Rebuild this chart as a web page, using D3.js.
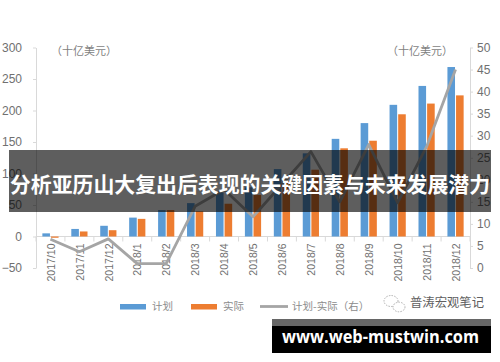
<!DOCTYPE html>
<html>
<head>
<meta charset="utf-8">
<script src="https://cdn.jsdelivr.net/npm/d3@7"></script>
<style>
  body { margin: 0; background: #fff; }
  svg { display: block; }
</style>
</head>
<body>
<svg id="chart"></svg>
<script>
const width = 500;
const height = 362;

// data
const months = ["2017/10", "2017/11", "2017/12", "2018/1", "2018/2", "2018/3", "2018/4", "2018/5",
                "2018/6", "2018/7", "2018/8", "2018/9", "2018/10", "2018/11", "2018/12"];
const plan   = [5, 12, 17, 30, 42, 53, 70, 78, 107, 132, 155, 180, 209, 239, 269];
const actual = [-2, 8, 10, 28, 42, 40, 52, 66, 88, 106, 140, 152, 194, 211, 224];
const gap    = [6.5, 3.7, 6.6, 1, 1, 14, 17.8, 11.6, 19, 26.4, 15, 28, 14.8, 27.5, 45];

const leftTicks  = [-50, 0, 50, 100, 150, 200, 250, 300];
const rightTicks = [0, 5, 10, 15, 20, 25, 30, 35, 40, 45, 50];

const seriesNames = ["计划", "实际", "计划-实际（右）"];
const unitLabel = "（十亿美元）";
const bannerTitle = "分析亚历山大复出后表现的关键因素与未来发展潜力";
const siteText = "www.web-mustwin.com";
const markText = "普涛宏观笔记";

const blue = "#5b9bd5", orange = "#ed7d31", grey = "#a5a5a5";
const axisColor = "#d9d9d9", labelColor = "#707070";
const numFont = "'Liberation Sans', Arial, sans-serif";
const cjkFont = "'Noto Sans CJK SC', sans-serif";

const svg = d3.select("#chart").attr("width", width).attr("height", height);

svg.append("rect").attr("width", width).attr("height", height).attr("fill", "#fff");

const plotTop = 47.5, plotBottom = 268;

const x = d3.scaleBand().domain(months).range([36, 470]).padding(0);
const bw = x.bandwidth();
const xSub = d3.scaleBand().domain(["plan", "actual"])
  .range([bw * 0.22, bw * 0.78]).paddingInner(0.12);

const yL = d3.scaleLinear().domain([-50, 300]).range([plotBottom, plotTop]);
const yR = d3.scaleLinear().domain([0, 50]).range([plotBottom, plotTop]);

// left axis
const gL = svg.append("g")
  .attr("transform", "translate(36,0)")
  .call(d3.axisLeft(yL).tickValues(leftTicks).tickSize(3).tickSizeOuter(0).tickPadding(11));
gL.select(".domain").attr("stroke", axisColor);
gL.selectAll(".tick line").attr("stroke", axisColor);
gL.selectAll("text")
  .style("fill", labelColor).style("font-size", "12px").style("font-family", numFont);

// right axis
const gR = svg.append("g")
  .attr("transform", "translate(470,0)")
  .call(d3.axisRight(yR).tickValues(rightTicks).tickSize(3).tickSizeOuter(0).tickPadding(4));
gR.select(".domain").attr("stroke", axisColor);
gR.selectAll(".tick line").attr("stroke", axisColor);
gR.selectAll("text")
  .style("fill", labelColor).style("font-size", "12px").style("font-family", numFont);

// category axis at zero
const y0 = yL(0);
const gX = svg.append("g").attr("transform", `translate(0,${y0})`);
gX.append("line")
  .attr("x1", x.range()[0]).attr("x2", x.range()[1])
  .attr("stroke", axisColor);
gX.selectAll("line.tick")
  .data(months.concat(["end"]))
  .join("line")
    .attr("class", "tick")
    .attr("x1", d => d === "end" ? x.range()[1] : x(d))
    .attr("x2", d => d === "end" ? x.range()[1] : x(d))
    .attr("y1", 0).attr("y2", 5)
    .attr("stroke", axisColor);
gX.selectAll("text")
  .data(months)
  .join("text")
    .attr("transform", d => `translate(${x(d) + bw / 2 + 0.5},7) rotate(-90)`)
    .attr("text-anchor", "end")
    .attr("dy", "0.35em")
    .style("fill", labelColor).style("font-size", "10.5px").style("font-family", numFont)
    .text(d => d);

// bars
const rows = months.map((m, i) => ({ m, plan: plan[i], actual: actual[i] }));
const barG = svg.append("g");
["plan", "actual"].forEach(k => {
  barG.selectAll(`rect.${k}`)
    .data(rows)
    .join("rect")
      .attr("class", k)
      .attr("x", d => x(d.m) + xSub(k))
      .attr("width", xSub.bandwidth())
      .attr("y", d => yL(Math.max(0, d[k])))
      .attr("height", d => Math.abs(yL(d[k]) - yL(0)))
      .attr("fill", k === "plan" ? blue : orange);
});

// difference line on right axis
const line = d3.line()
  .x((d, i) => x(months[i]) + bw / 2)
  .y(d => yR(d));
svg.append("path")
  .datum(gap)
  .attr("d", line)
  .attr("fill", "none")
  .attr("stroke", grey)
  .attr("stroke-width", 2.8)
  .attr("stroke-linejoin", "round");

// unit labels
svg.append("text").attr("x", 51).attr("y", 51).attr("dy", "0.35em")
  .style("fill", "#7f7f7f").style("font-size", "11px").style("font-family", cjkFont)
  .text(unitLabel);
svg.append("text").attr("x", 387).attr("y", 51).attr("dy", "0.35em")
  .style("fill", "#7f7f7f").style("font-size", "11px").style("font-family", cjkFont)
  .text(unitLabel);

// legend
const legendY = 306.5;
const legend = svg.append("g").style("font-family", cjkFont).style("font-size", "10.5px");
const legendItems = [
  { name: seriesNames[0], color: blue, kind: "rect", x: 120 },
  { name: seriesNames[1], color: orange, kind: "rect", x: 191 },
  { name: seriesNames[2], color: grey, kind: "line", x: 260 }
];
legendItems.forEach(it => {
  if (it.kind === "rect") {
    legend.append("rect").attr("x", it.x).attr("y", legendY - 2.5)
      .attr("width", 26).attr("height", 5.5).attr("fill", it.color);
  } else {
    legend.append("line").attr("x1", it.x).attr("x2", it.x + 28)
      .attr("y1", legendY).attr("y2", legendY)
      .attr("stroke", it.color).attr("stroke-width", 2.8);
  }
  legend.append("text").attr("x", it.x + 32).attr("y", legendY)
    .attr("dy", "0.35em").style("fill", "#8c8c8c").text(it.name);
});

// watermark
const wm = svg.append("g").attr("transform", "translate(394,304)");
wm.append("ellipse").attr("cx", -3).attr("cy", -3).attr("rx", 7).attr("ry", 5.5)
  .attr("fill", "none").attr("stroke", "#b0b0b0").attr("stroke-width", 1).attr("stroke-dasharray", "1.5,1.2");
wm.append("ellipse").attr("cx", 5).attr("cy", 3).attr("rx", 6).attr("ry", 4.8)
  .attr("fill", "#fff").attr("stroke", "#b0b0b0").attr("stroke-width", 1).attr("stroke-dasharray", "1.5,1.2");
svg.append("text").attr("x", 410).attr("y", 303).attr("dy", "0.35em")
  .attr("textLength", 74).attr("lengthAdjust", "spacingAndGlyphs")
  .style("fill", "#606060").style("font-size", "12.5px").style("font-family", cjkFont)
  .text(markText);

// title banner over the chart
svg.append("rect").attr("x", 9).attr("y", 150).attr("width", 482).attr("height", 62)
  .attr("fill", "#000").attr("fill-opacity", 0.63);
svg.append("text").attr("x", 10).attr("y", 184).attr("dy", "0.36em")
  .attr("textLength", 480).attr("lengthAdjust", "spacingAndGlyphs")
  .style("fill", "#fff").style("font-size", "21px").style("font-weight", "bold")
  .style("font-family", cjkFont)
  .text(bannerTitle);

// site banner at the bottom
svg.append("rect").attr("x", 272).attr("y", 319).attr("width", 219).attr("height", 7).attr("fill", "#666");
svg.append("rect").attr("x", 272).attr("y", 326).attr("width", 219).attr("height", 27).attr("fill", "#000");
svg.append("text").attr("x", 282).attr("y", 343)
  .attr("textLength", 197).attr("lengthAdjust", "spacingAndGlyphs")
  .style("fill", "#fff").style("font-size", "17px").style("font-weight", "bold")
  .style("font-family", "'Open Sans', 'DejaVu Sans', sans-serif")
  .text(siteText);
</script>
</body>
</html>
